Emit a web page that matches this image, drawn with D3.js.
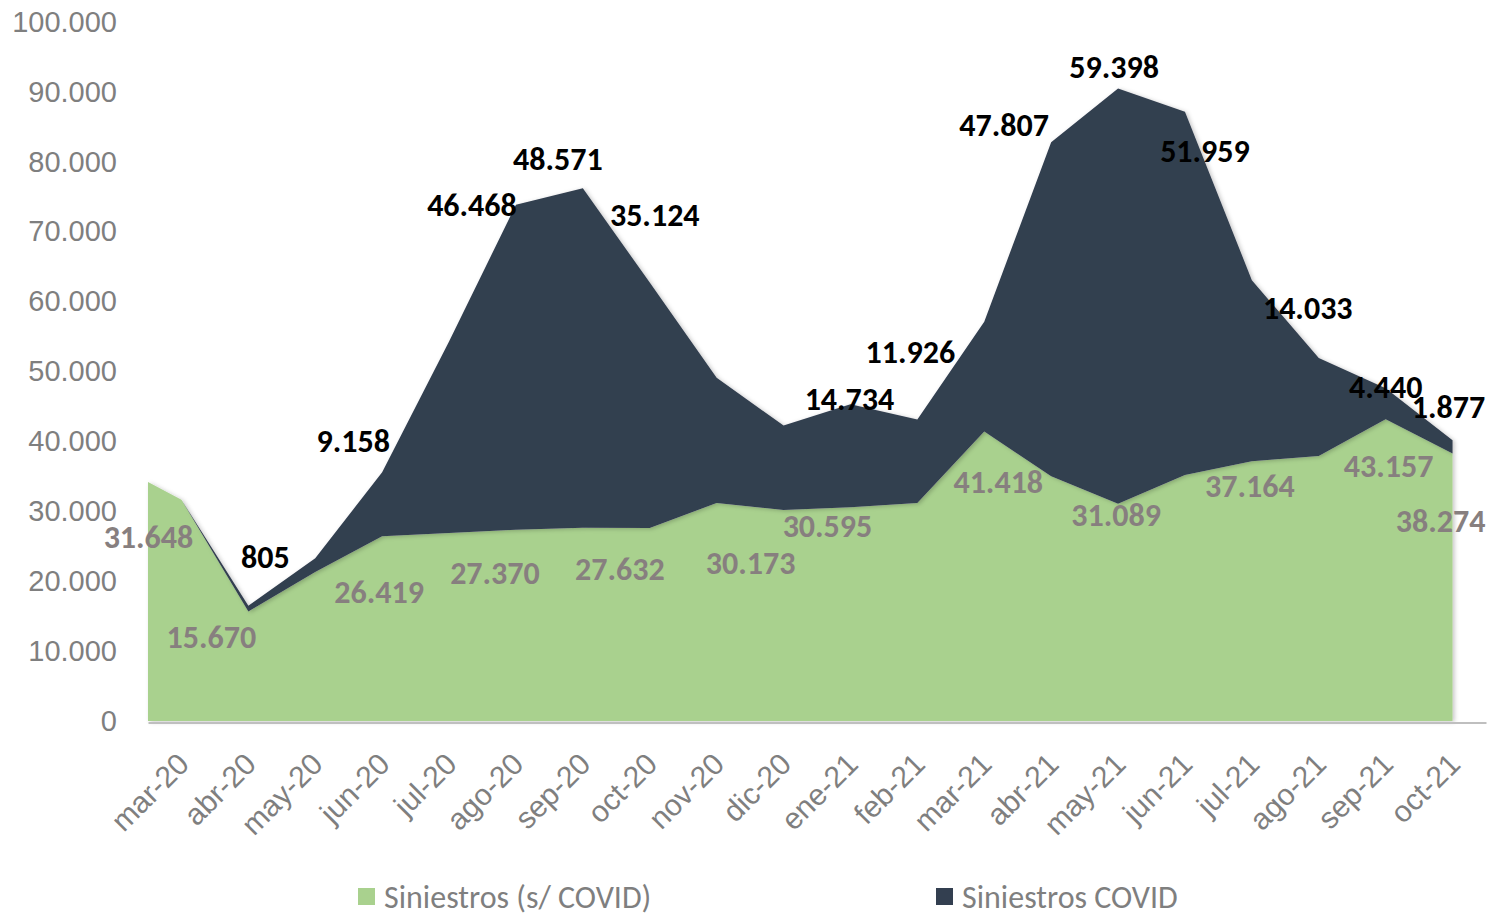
<!DOCTYPE html>
<html>
<head>
<meta charset="utf-8">
<script src="https://cdn.jsdelivr.net/npm/d3@7"></script>
<style>
  body { margin: 0; background: #fff; }
  svg { display: block; font-family: Carlito, 'Open Sans', sans-serif; }
</style>
</head>
<body>
<svg id="chart" width="1488" height="916"></svg>
<script>
// months on the category axis
let months = ['mar-20','abr-20','may-20','jun-20','jul-20','ago-20','sep-20','oct-20','nov-20','dic-20',
              'ene-21','feb-21','mar-21','abr-21','may-21','jun-21','jul-21','ago-21','sep-21','oct-21']

// Siniestros (s/ COVID)
let sinCovid = [31648, 15670, 21300, 26419, 26900, 27370, 27632, 27600, 31200, 30173,
                30595, 31200, 41418, 35000, 31089, 35200, 37164, 37900, 43157, 38274]

// Siniestros COVID
let covid = [0, 805, 2000, 9158, 27400, 46468, 48571, 35124, 17900, 12100,
             14734, 11926, 15700, 47807, 59398, 51959, 25900, 14033, 4440, 1877]

// value at the left edge of the plot (area starts before the first category)
let leadSinCovid = 34200
let leadCovid = 0

let yTicks = [0, 10000, 20000, 30000, 40000, 50000, 60000, 70000, 80000, 90000, 100000]

// which points carry a label, and a hand nudge for each (like the original)
let covidLabels = [
    {m: 'abr-20', dx: 17, dy: -49}, {m: 'jun-20', dx: -29, dy: -32}, {m: 'ago-20', dx: -44, dy: 0},
    {m: 'sep-20', dx: -25, dy: -30}, {m: 'oct-20', dx: 5, dy: -68}, {m: 'ene-21', dx: -1, dy: -5},
    {m: 'feb-21', dx: -7, dy: -68}, {m: 'abr-21', dx: -47, dy: -17}, {m: 'may-21', dx: -4, dy: -22},
    {m: 'jun-21', dx: 20, dy: 39}, {m: 'ago-21', dx: -11, dy: -50}, {m: 'sep-21', dx: 0, dy: -1},
    {m: 'oct-21', dx: -4, dy: -34}
]
let sinCovidLabels = [
    {m: 'mar-20', dx: -33, dy: 37}, {m: 'abr-20', dx: -37, dy: 25}, {m: 'jun-20', dx: -3, dy: 55},
    {m: 'ago-20', dx: -21, dy: 43}, {m: 'sep-20', dx: 37, dy: 41}, {m: 'dic-20', dx: -33, dy: 53},
    {m: 'ene-21', dx: -23, dy: 19}, {m: 'mar-21', dx: 14, dy: 50}, {m: 'may-21', dx: -2, dy: 11},
    {m: 'jul-21', dx: -2, dy: 25}, {m: 'sep-21', dx: 3, dy: 46}, {m: 'oct-21', dx: -12, dy: 67}
]

let green = '#a9d18e'
let navy = '#333f50'
let gray = '#7f7f7f'

let locale = d3.formatLocale({decimal: ',', thousands: '.', grouping: [3], currency: ['', '']})
let fmt = locale.format(',d')

let svg = d3.select('#chart')

let x = d3.scaleBand().domain(months).range([148, 1486])
let cx = (m) => x(m) + x.bandwidth() / 2
let y = d3.scaleLinear().domain([0, 100000]).range([721, 22])

// soft shadow like the excel areas
let defs = svg.append('defs')
defs.append('filter').attr('id', 'shadow')
    .attr('x', '-5%').attr('y', '-5%').attr('width', '110%').attr('height', '110%')
    .append('feDropShadow')
    .attr('dx', 2).attr('dy', 1).attr('stdDeviation', 2)
    .attr('flood-color', '#000').attr('flood-opacity', 0.22)

let rows = [{pos: x.range()[0], sin: leadSinCovid, cov: leadCovid}]
months.forEach((m, i) => {
    rows.push({pos: cx(m), sin: sinCovid[i], cov: covid[i]})
})

let stacked = d3.stack().keys(['sin', 'cov'])(rows)
let colors = [green, navy]

let area = d3.area()
    .x((d) => d.data.pos)
    .y0((d) => y(d[0]))
    .y1((d) => y(d[1]))

svg.append('g')
    .selectAll('path')
    .data(stacked)
    .enter()
        .append('path')
        .attr('d', area)
        .attr('fill', (d, i) => colors[i])
        .attr('filter', 'url(#shadow)')

// y axis, no line, only labels
let yAxis = svg.append('g')
    .attr('transform', 'translate(148,0)')
    .call(d3.axisLeft(y).tickValues(yTicks).tickFormat(fmt).tickSize(0).tickPadding(31))
yAxis.select('.domain').remove()
yAxis.selectAll('text')
    .attr('fill', gray)
    .style('font-size', '29px')

// x axis
let xAxis = svg.append('g')
    .attr('transform', 'translate(0,722.5)')
    .call(d3.axisBottom(x).tickSize(0).tickSizeOuter(0))
xAxis.select('.domain').attr('stroke', '#bfbfbf').attr('stroke-width', 2)
xAxis.selectAll('text')
    .attr('fill', gray)
    .style('font-size', '30px')
    .attr('text-anchor', 'end')
    .attr('dy', '0.35em')
    .attr('y', 0)
    .attr('transform', 'translate(2,36) rotate(-45)')

// data labels
let idx = (m) => months.indexOf(m)

svg.append('g')
    .selectAll('text')
    .data(sinCovidLabels)
    .enter()
        .append('text')
        .attr('x', (d) => cx(d.m) + d.dx)
        .attr('y', (d) => y(sinCovid[idx(d.m)]) + d.dy)
        .attr('dy', '0.35em')
        .attr('text-anchor', 'middle')
        .attr('fill', '#877f7f')
        .style('font-size', '32px')
        .style('font-weight', 'bold')
        .text((d) => fmt(sinCovid[idx(d.m)]))

svg.append('g')
    .selectAll('text')
    .data(covidLabels)
    .enter()
        .append('text')
        .attr('x', (d) => cx(d.m) + d.dx)
        .attr('y', (d) => y(sinCovid[idx(d.m)] + covid[idx(d.m)]) + d.dy)
        .attr('dy', '0.35em')
        .attr('text-anchor', 'middle')
        .attr('fill', '#000')
        .style('font-size', '32px')
        .style('font-weight', 'bold')
        .text((d) => fmt(covid[idx(d.m)]))

// legend
let legendItems = [
    {name: 'Siniestros (s/ COVID)', color: green, x: 358},
    {name: 'Siniestros COVID', color: navy, x: 936}
]
let legend = svg.append('g')
    .selectAll('g')
    .data(legendItems)
    .enter()
        .append('g')
        .attr('transform', (d) => 'translate(' + d.x + ',888)')
legend.append('rect')
    .attr('width', 17).attr('height', 17)
    .attr('fill', (d) => d.color)
legend.append('text')
    .attr('x', 26).attr('y', 8.5)
    .attr('dy', '0.35em')
    .attr('fill', gray)
    .style('font-size', '32px')
    .text((d) => d.name)
</script>
</body>
</html>
